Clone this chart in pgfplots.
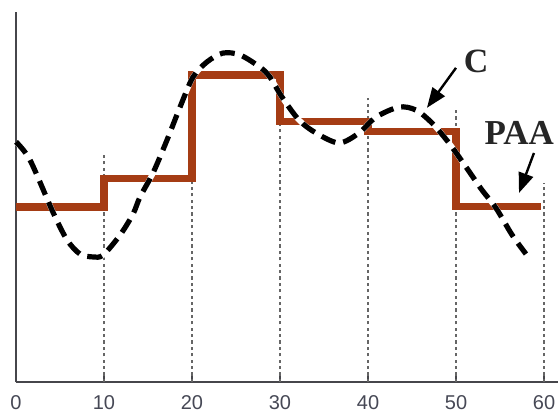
\documentclass[border=0pt]{standalone}
\usepackage{fontspec}
\setmainfont{Liberation Sans}
\newfontfamily\timesfont{Liberation Serif}
\usepackage{pgfplots}
\pgfplotsset{compat=1.18}
\usetikzlibrary{arrows.meta}
\definecolor{paa}{RGB}{165,60,20}
\definecolor{axgray}{RGB}{70,70,75}
\definecolor{lblgray}{RGB}{70,72,85}
\begin{document}
\begin{tikzpicture}
\path[use as bounding box] (-8pt,-16pt) rectangle (271pt,191pt);
\begin{axis}[
  x=4.4pt, y=18.5pt,
  anchor=origin, at={(0pt,0pt)},
  xmin=0, xmax=61.6, ymin=0, ymax=10,
  enlargelimits=false,
  axis lines=left,
  axis line style={-, axgray, line width=1pt},
  clip=false,
  xtick={0,10,20,30,40,50,60},
  ytick=\empty,
  tick align=inside,
  major tick length=3pt,
  tick style={axgray, line width=1pt},
  xticklabel style={font=\fontsize{10}{12}\selectfont, text=lblgray, yshift=-3pt},
  /pgf/number format/assume math mode=true,
]
% dotted guide lines
\addplot[ycomb, black!60, line width=0.7pt, dash pattern=on 1.6pt off 1.6pt] coordinates {
  (10,6.22) (20,8.3) (30,7.70) (40,7.68) (50,7.43) (60,5.38)
};
% PAA
\addplot[const plot, paa, line width=3.6pt] coordinates {
  (0,4.73) (10,5.51) (20,8.30) (30,7.03) (40,6.78) (50,4.75) (59.7,4.75)
};
% series C: white halo then dashes
\addplot[smooth, white, line width=2.8pt] coordinates {
  (0,6.49) (1.59,6.0) (4.20,4.59) (5.80,3.84) (7.27,3.46) (8.75,3.38) (9.89,3.43)
  (11.82,3.97) (13.30,4.54) (14.09,5.0) (15.57,5.65) (17.16,6.54) (18.64,7.43)
  (20.11,8.24) (21.70,8.65) (23.52,8.89) (25.45,8.84) (27.73,8.51) (28.86,8.24)
  (30.23,7.70) (32.16,7.08) (34.09,6.73) (36.70,6.46) (38.98,6.73) (40.91,7.16)
  (43.52,7.43) (45.45,7.35) (47.27,7.0) (49.20,6.46) (51.14,5.81) (52.95,5.19)
  (54.55,4.70) (56.36,3.98) (57.95,3.46)
};
\addplot[smooth, black, line width=2.6pt, dash pattern=on 7.5pt off 4pt] coordinates {
  (0,6.49) (1.59,6.0) (4.20,4.59) (5.80,3.84) (7.27,3.46) (8.75,3.38) (9.89,3.43)
  (11.82,3.97) (13.30,4.54) (14.09,5.0) (15.57,5.65) (17.16,6.54) (18.64,7.43)
  (20.11,8.24) (21.70,8.65) (23.52,8.89) (25.45,8.84) (27.73,8.51) (28.86,8.24)
  (30.23,7.70) (32.16,7.08) (34.09,6.73) (36.70,6.46) (38.98,6.73) (40.91,7.16)
  (43.52,7.43) (45.45,7.35) (47.27,7.0) (49.20,6.46) (51.14,5.81) (52.95,5.19)
  (54.55,4.70) (56.36,3.98) (57.95,3.46)
};
% annotations
\draw[black, line width=1.2pt, -{Triangle[length=10pt,width=7.5pt]}] (axis cs:50.0,8.49) -- (axis cs:46.7,7.41);
\draw[black, line width=1.2pt, -{Triangle[length=10pt,width=7.5pt]}] (axis cs:58.86,6.19) -- (axis cs:57.16,5.11);
\node[font=\timesfont\bfseries\fontsize{17}{19}\selectfont, text=black!85, inner sep=0pt] at (axis cs:52.3,8.66) {C};
\node[font=\timesfont\bfseries\fontsize{17.5}{19}\selectfont, text=black!85, inner sep=0pt, anchor=west] at (axis cs:53.2,6.74) {PAA};
\end{axis}
\end{tikzpicture}
\end{document}
